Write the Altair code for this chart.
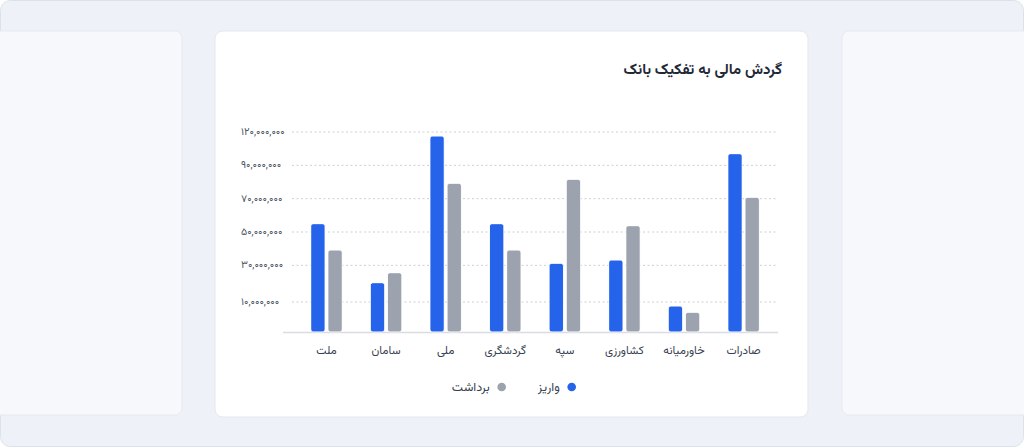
import altair as alt
import pandas as pd

# ---- data ----
banks = ["صادرات", "خاورمیانه", "کشاورزی", "سپه", "گردشگری", "ملی", "سامان", "ملت"]
deposit = [107_000_000, 15_600_000, 43_200_000, 41_200_000, 65_000_000, 117_600_000, 29_600_000, 65_000_000]
withdrawal = [80_800_000, 11_800_000, 63_800_000, 91_600_000, 49_200_000, 89_200_000, 35_600_000, 49_200_000]
series = ["واریز", "برداشت"]
colors = ["#2563eb", "#9ca3af"]
y_tick_values = [18_000_000, 40_000_000, 60_000_000, 80_000_000, 100_000_000, 120_000_000]
y_tick_labels = ["۱۰,۰۰۰,۰۰۰", "۳۰,۰۰۰,۰۰۰", "۵۰,۰۰۰,۰۰۰", "۷۰,۰۰۰,۰۰۰", "۹۰,۰۰۰,۰۰۰", "۱۲۰,۰۰۰,۰۰۰"]
title_text = "گردش مالی به تفکیک بانک"

rows = []
for b, d, w in zip(banks, deposit, withdrawal):
    rows.append({"bank": b, "series": series[0], "value": d})
    rows.append({"bank": b, "series": series[1], "value": w})
df = pd.DataFrame(rows)
ticks_df = pd.DataFrame({"v": y_tick_values, "label": y_tick_labels})
legend_df = pd.DataFrame({"series": series})

FONT = "Vazirmatn, 'Noto Sans Arabic', 'DejaVu Sans', sans-serif"
W, H = 495, 200
OX, OY = 283, 132

one = alt.Data(values=[{}])

def deco(x1, x2, y1, y2, fill, stroke, radius):
    return alt.Chart(one).mark_rect(fill=fill, stroke=stroke, strokeWidth=1, cornerRadius=radius).encode(
        x=alt.value(x1 - OX), x2=alt.value(x2 - OX), y=alt.value(y1 - OY), y2=alt.value(y2 - OY)
    )

frame = deco(0.5, 1023.5, 0.5, 446.5, "#eef1f7", "#dde2ea", 10)
left_card = deco(-20, 182, 31, 415, "#f7f8fb", "#e6e9ef", 7)
right_card = deco(842, 1040, 31, 415, "#f7f8fb", "#e6e9ef", 7)
main_card = deco(215, 808, 31, 417, "#ffffff", "#e4e7ec", 8)

title = alt.Chart(one).mark_text(text=title_text, align="right", baseline="middle", fontSize=15,
                                 fontWeight="bold", color="#1f2937", font=FONT).encode(
    x=alt.value(782 - OX), y=alt.value(69 - OY)
)

y_scale = alt.Scale(domain=[0, 120_000_000], nice=False)
color_scale = alt.Scale(domain=series, range=colors)

grid = alt.Chart(ticks_df).mark_rule(color="#cbcfd5", strokeDash=[2, 2.5], strokeWidth=1).encode(
    y=alt.Y("v:Q", scale=y_scale, axis=None),
    x=alt.value(9), x2=alt.value(W),
)

y_labels = alt.Chart(ticks_df).mark_text(align="left", baseline="middle", fontSize=10.5,
                                         color="#4b5563", font=FONT).encode(
    y=alt.Y("v:Q", scale=y_scale, axis=None),
    x=alt.value(241 - OX),
    text="label:N",
)

baseline = alt.Chart(one).mark_rule(color="#d9dce1", strokeWidth=1.5).encode(
    x=alt.value(0), x2=alt.value(W), y=alt.value(H + 0.5)
)

bars = alt.Chart(df).mark_bar(cornerRadius=3, stroke="#ffffff", strokeWidth=0.6).encode(
    x=alt.X("bank:N", sort=banks,
            scale=alt.Scale(reverse=True, range=[13.7, 490.4], paddingInner=0.47, paddingOuter=0.235),
            axis=alt.Axis(title=None, ticks=False, tickSize=0, labelAngle=0, labelPadding=12,
                          labelFontSize=11.5, labelColor="#374151", labelFont=FONT,
                          domain=False, grid=False, zindex=1)),
    xOffset=alt.XOffset("series:N", sort=series, scale=alt.Scale(paddingInner=0.16, paddingOuter=0)),
    y=alt.Y("value:Q", scale=y_scale, axis=None),
    color=alt.Color("series:N", scale=color_scale, legend=None),
)

# custom RTL legend: dot on the right of each label
legend_x = alt.X("series:N", sort=[series[1], series[0]],
                 scale=alt.Scale(domain=[series[1], series[0]], range=[218.7, 288.7], padding=0), axis=None)
legend_dots = alt.Chart(legend_df).mark_point(filled=True, shape="circle", size=75, opacity=1).encode(
    x=legend_x, y=alt.value(255),
    color=alt.Color("series:N", scale=color_scale, legend=None),
)
legend_text = alt.Chart(legend_df).mark_text(align="right", baseline="middle", dx=-12, fontSize=12.5,
                                              color="#374151", font=FONT).encode(
    x=legend_x, y=alt.value(255), text="series:N",
)

chart = alt.layer(frame, left_card, right_card, main_card, title, grid, y_labels, baseline, bars,
                  legend_dots, legend_text).resolve_scale(
    x="independent"
).properties(
    width=W, height=H,
    autosize=alt.AutoSizeParams(type="none"),
    padding={"left": OX, "top": OY, "right": 1024 - OX - W, "bottom": 448 - OY - H},
    background="#ffffff",
).configure_view(stroke=None)

chart.save("out.html", embed_options={"renderer": "svg", "actions": False})
